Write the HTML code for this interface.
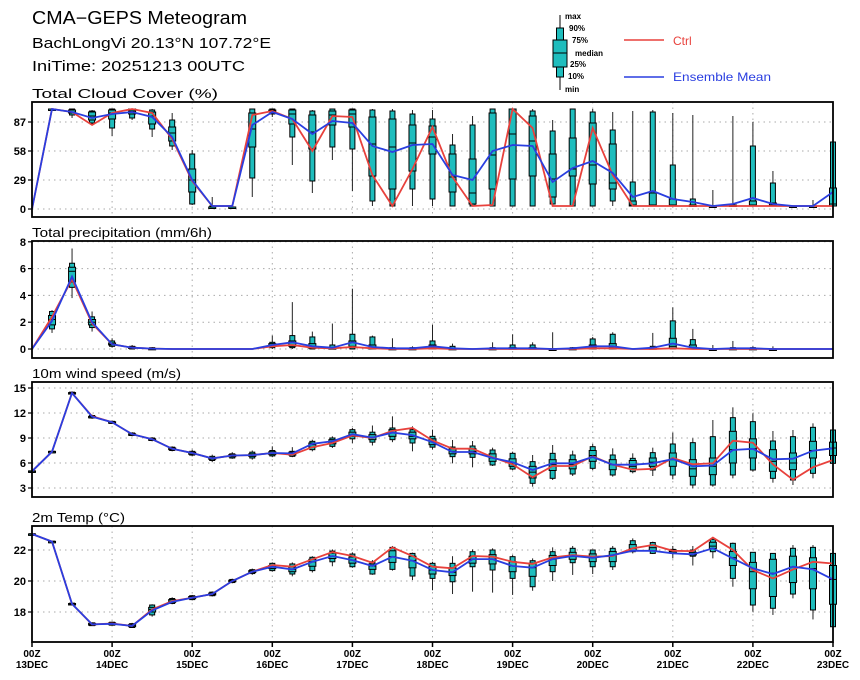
<!DOCTYPE html>
<html><head><meta charset="utf-8">
<style>
html,body{margin:0;padding:0;background:#fff;}
svg{display:block;font-family:"Liberation Sans","DejaVu Sans",sans-serif;}
</style></head>
<body>
<svg id="chart" width="860" height="680" viewBox="0 0 860 680" xmlns="http://www.w3.org/2000/svg">
  <g>
    <text x="32" y="24" font-size="18" fill="#000" textLength="215" lengthAdjust="spacingAndGlyphs">CMA−GEPS Meteogram</text>
    <text x="32" y="48" font-size="15" fill="#000" textLength="239" lengthAdjust="spacingAndGlyphs">BachLongVi 20.13°N 107.72°E</text>
    <text x="32" y="71" font-size="15" fill="#000" textLength="213" lengthAdjust="spacingAndGlyphs">IniTime: 20251213 00UTC</text>
  </g>
  <g font-weight="bold" font-size="8">
    <line x1="560" y1="15" x2="560" y2="90" stroke="#000" stroke-width="1"/>
    <rect x="556.5" y="28" width="7" height="49" fill="#1fbdbd" stroke="#000"/>
    <rect x="553" y="40" width="14" height="27" fill="#1fbdbd" stroke="#000"/>
    <line x1="553" y1="53" x2="567" y2="53" stroke="#000"/>
    <text x="565" y="19">max</text>
    <text x="569" y="31">90%</text>
    <text x="572" y="43">75%</text>
    <text x="575" y="56">median</text>
    <text x="570" y="67">25%</text>
    <text x="568" y="79">10%</text>
    <text x="565" y="92">min</text>
    <line x1="624" y1="40" x2="664" y2="40" stroke="#e8413c" stroke-width="1.5"/>
    <text x="673" y="45" font-size="12" font-weight="normal" fill="#e8413c">Ctrl</text>
    <line x1="624" y1="77" x2="664" y2="77" stroke="#2a3ee0" stroke-width="1.5"/>
    <text x="673" y="81" font-size="12" font-weight="normal" fill="#2a3ee0" textLength="98" lengthAdjust="spacingAndGlyphs">Ensemble Mean</text>
  </g>
</svg>
<script>
// ---- data ----
const steps = 41;
const dayLabels = ["13DEC","14DEC","15DEC","16DEC","17DEC","18DEC","19DEC","20DEC","21DEC","22DEC","23DEC"];

const cloudTicks = [0,29,58,87];
const cloudBoxes = [[0,0,0,0,0,0,0],[99,99,100,100,100,100,100],[91,94,96,97,99,100,100],[84,86,89,93,97,98,99],[73,81,90,96,99,100,100],[89,91,95,98,100,100,100],[72,80,85,93,97,99,100],[59,63,68,76,82,89,96],[4,5,17,29,40,55,59],[2,2,2,2,2,3,12],[2,2,2,2,2,2,3],[12,31,62,80,96,100,100],[92,95,97,98,99,100,100],[44,72,85,95,99,100,100],[16,28,60,77,94,98,99],[49,62,84,94,98,100,100],[18,60,82,95,99,100,100],[3,8,33,65,92,99,100],[3,3,20,62,90,98,100],[3,20,38,66,84,95,99],[3,10,55,72,83,90,99],[3,3,17,32,55,64,75],[3,3,5,16,50,84,93],[3,3,20,54,96,100,100],[3,3,30,75,100,100,100],[3,3,33,68,93,98,100],[3,5,12,30,55,78,89],[3,3,33,40,71,100,100],[3,3,25,44,86,97,100],[3,8,20,26,65,79,97],[3,3,3,4,8,27,98],[3,3,3,4,16,97,99],[3,3,3,4,10,44,96],[3,3,3,3,4,10,94],[3,3,3,3,3,3,19],[3,3,3,3,4,4,93],[3,3,3,4,8,63,87],[3,3,3,4,6,26,38],[3,3,3,3,3,3,3],[3,3,3,3,3,3,9],[3,3,3,5,21,67,67]];
const cloudCtrl = [0,100,97,84,96,100,96,70,28,3,3,94,98,90,58,93,92,34,3,40,82,32,3,4,100,81,3,3,81,34,3,3,3,3,3,3,3,3,3,3,3];
const cloudMean = [0,100,97,91,95,97,92,72,29,3,3,84,97,90,75,88,86,63,57,64,65,34,29,58,64,63,27,41,48,36,12,18,10,7,3,5,11,5,3,3,17];

const precTicks = [0,2,4,6,8];
const precBoxes = [[0,0,0,0,0,0,0],[1.2,1.5,1.8,2.2,2.5,2.8,2.9],[3.8,4.6,5.0,5.8,6.1,6.4,7.5],[1.3,1.6,1.8,2.0,2.2,2.4,2.8],[0.1,0.2,0.3,0.35,0.45,0.6,0.8],[0,0,0.05,0.1,0.15,0.2,0.3],[0,0,0,0.03,0.05,0.1,0.15],[0,0,0,0,0,0,0],[0,0,0,0,0,0,0],[0,0,0,0,0,0,0],[0,0,0,0,0,0,0],[0,0,0,0,0,0,0],[0,0.1,0.2,0.3,0.4,0.5,1.0],[0,0.1,0.2,0.3,0.6,1.0,3.5],[0,0,0.05,0.1,0.4,0.9,1.3],[0,0,0,0.05,0.1,0.3,1.9],[0,0,0.1,0.2,0.6,1.1,4.5],[0,0,0,0.05,0.3,0.9,1.0],[0,0,0,0,0.05,0.1,0.8],[0,0,0,0,0.05,0.1,0.2],[0,0,0,0.1,0.3,0.6,1.8],[0,0,0,0,0.05,0.2,0.4],[0,0,0,0,0,0,0],[0,0,0,0,0.05,0.1,0.5],[0,0,0,0,0.1,0.3,1.1],[0,0,0,0.05,0.1,0.3,0.5],[0,0,0,0,0,0.02,1.25],[0,0,0,0,0.05,0.1,0.15],[0,0,0,0.1,0.3,0.75,0.9],[0,0,0,0.1,0.4,1.1,1.25],[0,0,0,0,0,0,0],[0,0,0,0,0.1,0.2,1.2],[0,0,0.05,0.2,0.8,2.1,3.1],[0,0,0,0.1,0.3,0.7,1.5],[0,0,0,0,0,0.02,0.3],[0,0,0,0,0.05,0.1,0.6],[0,0,0,0,0.05,0.1,0.2],[0,0,0,0,0,0.02,0.2],[0,0,0,0,0,0,0],[0,0,0,0,0,0,0],[0,0,0,0,0,0,0]];
const precCtrl = [0,2.4,5.2,1.9,0.35,0.1,0.03,0,0,0,0,0,0.2,0.3,0.1,0.05,0.15,0.05,0,0,0.05,0,0,0,0,0,0,0,0.05,0.05,0,0,0.05,0,0,0,0,0,0,0,0];
const precMean = [0,2.1,5.4,2.0,0.35,0.1,0.03,0,0,0,0,0,0.3,0.5,0.2,0.1,0.5,0.15,0.05,0.05,0.2,0.05,0,0.05,0.05,0.05,0,0.05,0.2,0.2,0,0.1,0.4,0.1,0,0.05,0.05,0,0,0,0];

const windTicks = [3,6,9,12,15];
const windBoxes = [[5.0,5.0,5.0,5.0,5.05,5.05,5.1],[7.25,7.3,7.3,7.35,7.4,7.4,7.45],[14.2,14.3,14.35,14.4,14.45,14.5,14.6],[11.3,11.4,11.45,11.55,11.6,11.7,11.8],[10.7,10.75,10.8,10.9,10.95,11.0,11.1],[9.2,9.3,9.35,9.45,9.5,9.6,9.7],[8.6,8.7,8.75,8.85,8.9,9.0,9.1],[7.4,7.5,7.6,7.7,7.8,7.9,8.0],[6.8,6.95,7.05,7.2,7.3,7.4,7.6],[6.1,6.3,6.45,6.55,6.65,6.8,7.0],[6.5,6.6,6.75,6.85,7.0,7.1,7.3],[6.4,6.6,6.8,6.95,7.1,7.3,7.5],[6.7,6.85,7.0,7.2,7.35,7.5,8.0],[6.7,6.8,6.95,7.1,7.3,7.4,7.9],[7.4,7.6,7.9,8.2,8.4,8.6,8.8],[7.8,8.0,8.3,8.5,8.8,9.0,9.2],[8.4,8.9,9.2,9.4,9.7,10.0,10.2],[8.1,8.5,8.8,9.1,9.4,9.7,10.5],[8.5,8.8,9.2,9.6,10.0,10.2,11.6],[7.4,8.4,8.9,9.2,9.7,10.0,10.4],[7.6,7.9,8.2,8.6,8.9,9.2,10.0],[5.96,6.76,7.1,7.4,7.7,7.92,8.76],[5.48,6.68,7.1,7.4,7.7,8.04,8.64],[5.64,5.76,6.2,6.6,7.1,7.56,7.84],[5.16,5.28,5.6,6.0,6.5,7.16,7.36],[3.16,3.56,4.2,4.9,5.6,6.16,6.96],[3.96,4.16,5.1,5.8,6.4,7.16,8.16],[4.44,4.68,5.3,5.8,6.4,6.96,7.48],[5.16,5.36,6.2,6.9,7.5,7.96,8.28],[4.36,4.56,5.2,5.8,6.4,6.96,7.76],[4.76,4.96,5.3,5.6,6.3,6.56,7.16],[4.44,5.16,5.6,6.1,6.6,7.24,7.84],[4.04,4.56,5.6,6.4,7.2,8.28,9.64],[2.96,3.36,4.4,5.3,6.4,8.44,8.96],[3.16,3.36,4.6,5.6,6.6,9.16,11.16],[4.16,4.56,6.0,7.6,9.8,11.44,12.68],[4.96,5.16,6.6,7.7,8.9,10.96,11.96],[3.64,4.16,5.0,6.2,7.6,8.64,9.84],[3.36,3.96,5.2,6.0,7.2,9.16,9.96],[4.16,4.76,6.6,7.5,8.6,10.28,10.76],[5.5,5.96,6.9,7.8,8.5,9.96,10.2]];
const windCtrl = [5.0,7.35,14.4,11.6,10.9,9.45,8.85,7.7,7.2,6.55,6.9,6.95,7.2,7.0,7.9,8.4,9.3,9.0,9.85,10.2,8.7,7.72,7.72,6.68,5.84,4.3,5.64,5.64,6.8,5.8,5.2,5.3,6.6,5.84,5.96,8.68,8.44,5.84,4.0,5.5,6.36];
const windMean = [5.0,7.35,14.4,11.55,10.9,9.45,8.85,7.7,7.2,6.55,6.9,6.95,7.2,7.15,8.3,8.6,9.45,9.05,9.65,9.35,8.5,7.32,7.32,6.6,6.1,5.16,5.96,5.96,6.72,5.8,5.8,5.96,6.48,5.6,5.7,7.56,7.7,6.44,6.52,7.48,7.76];

const tempTicks = [18,20,22];
const tempBoxes = [[23.0,23.0,23.02,23.03,23.04,23.05,23.06],[22.5,22.51,22.52,22.54,22.56,22.57,22.58],[18.45,18.47,18.49,18.52,18.55,18.57,18.6],[17.1,17.12,17.15,17.2,17.27,17.3,17.33],[17.12,17.15,17.18,17.24,17.3,17.34,17.38],[16.98,17.0,17.05,17.12,17.2,17.25,17.3],[17.7,17.81,18.0,18.17,18.3,18.45,18.5],[18.5,18.55,18.62,18.7,18.8,18.87,18.95],[18.75,18.8,18.86,18.92,19.0,19.05,19.1],[19.0,19.05,19.1,19.16,19.22,19.28,19.33],[19.85,19.9,19.95,20.0,20.05,20.1,20.15],[20.4,20.48,20.55,20.6,20.67,20.73,20.8],[20.6,20.67,20.8,20.92,21.0,21.14,21.2],[20.3,20.45,20.6,20.75,20.9,21.1,21.2],[20.55,20.67,20.95,21.24,21.4,21.53,21.6],[20.95,21.24,21.45,21.61,21.8,21.93,22.04],[20.85,20.92,21.15,21.35,21.55,21.74,21.85],[20.4,20.45,20.75,20.97,21.1,21.24,21.35],[20.67,20.75,21.2,21.57,21.95,22.17,22.26],[20.06,20.32,20.85,21.31,21.6,21.78,21.83],[19.4,20.17,20.45,20.71,20.95,21.14,21.24],[19.16,19.95,20.35,20.56,20.85,21.14,21.6],[19.31,20.92,21.15,21.41,21.6,21.89,22.04],[19.25,20.71,21.1,21.41,21.7,22.0,22.11],[19.1,20.17,20.6,20.97,21.25,21.57,21.67],[19.37,19.63,20.3,20.86,21.15,21.31,21.46],[20.0,20.6,21.0,21.41,21.65,21.89,22.17],[20.39,21.18,21.4,21.61,21.85,22.11,22.26],[20.45,20.92,21.25,21.5,21.75,22.0,22.0],[20.71,20.92,21.25,21.67,21.9,22.11,22.26],[21.78,21.89,21.95,22.1,22.35,22.6,22.75],[21.74,21.78,21.95,22.15,22.3,22.48,22.54],[21.46,21.78,21.82,21.9,22.0,22.04,22.26],[21.0,21.6,21.68,21.75,21.85,22.0,22.26],[21.46,21.89,22.1,22.25,22.5,22.69,22.75],[19.63,20.17,21.0,21.5,21.9,22.43,22.48],[18.02,18.45,19.5,20.6,21.2,21.85,21.85],[17.81,18.24,19.0,20.5,21.4,21.78,21.78],[18.88,19.16,19.9,20.9,21.6,22.11,22.32],[17.52,18.13,19.5,20.8,21.5,22.17,22.32],[16.62,17.05,18.5,20.1,21.0,21.78,21.83]];
const tempCtrl = [23.03,22.54,18.52,17.2,17.26,17.1,18.17,18.7,18.92,19.16,20.0,20.6,21.03,20.92,21.4,21.87,21.61,21.18,22.17,21.61,20.92,20.82,21.61,21.57,21.24,21.1,21.52,21.67,21.57,21.61,22.11,22.32,21.95,21.93,22.8,22.0,20.71,20.17,20.75,21.24,21.13];
const tempMean = [23.03,22.54,18.52,17.2,17.24,17.1,18.1,18.65,18.92,19.16,20.0,20.6,20.92,20.75,21.24,21.61,21.35,20.97,21.57,21.31,20.71,20.56,21.41,21.41,20.97,20.86,21.41,21.61,21.5,21.67,21.95,21.95,21.78,21.72,22.11,21.46,20.82,20.45,20.92,20.75,20.1];

// ---- layout ----
const NS = "http://www.w3.org/2000/svg";
const svg = document.getElementById("chart");
const X0 = 32, X1 = 833;
function xScale(i){ return X0 + i*(X1-X0)/(steps-1); }
function mk(tag, attrs, parent){ const e=document.createElementNS(NS,tag); for(const k in attrs) e.setAttribute(k,attrs[k]); (parent||svg).appendChild(e); return e; }

const panels = [
  {key:"cloud", title:"Total Cloud Cover (%)", tlen:186, top:102, bottom:217, v0:0, y0:209, ppu:1.0, ticks:cloudTicks, boxes:cloudBoxes, ctrl:cloudCtrl, mean:cloudMean},
  {key:"precip", title:"Total precipitation (mm/6h)", tlen:180, top:241, bottom:358, v0:0, y0:349, ppu:13.4, ticks:precTicks, boxes:precBoxes, ctrl:precCtrl, mean:precMean},
  {key:"wind", title:"10m wind speed (m/s)", tlen:149, top:382, bottom:497, v0:15, y0:388, ppu:8.333, ticks:windTicks, boxes:windBoxes, ctrl:windCtrl, mean:windMean},
  {key:"temp", title:"2m Temp (°C)", tlen:93, top:526, bottom:642, v0:22, y0:550, ppu:15.5, ticks:tempTicks, boxes:tempBoxes, ctrl:tempCtrl, mean:tempMean}
];

panels.forEach(p=>{
  const y = v => p.y0 - (v - p.v0)*p.ppu;
  const g = mk("g",{});
  
  
  const t = mk("text",{x:32,y:p.top-4,"font-size":"12.5",fill:"#000",textLength:p.tlen,lengthAdjust:"spacingAndGlyphs"},g);
  
  
  t.textContent = p.title;
  for(let d=1; d<10; d++){
    const gl = mk("line",{x1:xScale(d*4),x2:xScale(d*4),y1:p.top,y2:p.bottom,stroke:"#aaa","stroke-width":1,"stroke-dasharray":"1.5,4"},g);
    
    
  }
  p.ticks.forEach(tv=>{
    const ty = y(tv);
    const hl = mk("line",{x1:X0,x2:X1,y1:ty,y2:ty,stroke:"#aaa","stroke-width":1,"stroke-dasharray":"1.5,4"},g);
    
    
    const tk = mk("line",{x1:X0-4,x2:X0,y1:ty,y2:ty,stroke:"#000","stroke-width":1.2},g);
    
    
    const tl = mk("text",{x:X0-6,y:ty+4,"font-size":"11","font-weight":"bold","text-anchor":"end",fill:"#000"},g);
    
    
    tl.textContent = tv;
  });
  p.boxes.forEach((b,i)=>{
    if (b[6]-b[0] < 1e-9 && b[6]===0) return;
    const cx = xScale(i);
    const bg = mk("g",{},g);
    
    
    const wl = mk("line",{x1:cx,x2:cx,y1:y(b[6]),y2:y(b[0]),stroke:"#222","stroke-width":1},bg);
    
    
    const oh = Math.max(y(b[1])-y(b[5]),1.5);
    const ob = mk("rect",{x:cx-2.5,y:y(b[5]),width:5,height:oh,fill:"#1fbdbd",stroke:"#000","stroke-width":1},bg);
    
    
    const ih = Math.max(y(b[2])-y(b[4]),1.5);
    const ib = mk("rect",{x:cx-3.5,y:y(b[4]),width:7,height:ih,fill:"#1fbdbd",stroke:"#000","stroke-width":1},bg);
    
    
    const md = mk("line",{x1:cx-3.5,x2:cx+3.5,y1:y(b[3]),y2:y(b[3]),stroke:"#000","stroke-width":1},bg);
    
    
  });
  const ctrlPts = p.ctrl.map((v,i)=>xScale(i).toFixed(1)+","+y(v).toFixed(1)).join(" ");
  const cl = mk("polyline",{points:ctrlPts,fill:"none",stroke:"#e8413c","stroke-width":1.8},g);
  
  
  const meanPts = p.mean.map((v,i)=>xScale(i).toFixed(1)+","+y(v).toFixed(1)).join(" ");
  const ml = mk("polyline",{points:meanPts,fill:"none",stroke:"#2a3ee0","stroke-width":1.8},g);
  
  
  const fr = mk("rect",{x:X0,y:p.top,width:X1-X0,height:p.bottom-p.top,fill:"none",stroke:"#000","stroke-width":1.8},g);
  
  
});

const xg = mk("g",{});


dayLabels.forEach((lab,d)=>{
  const x = xScale(d*4);
  const tk = mk("line",{x1:x,x2:x,y1:642,y2:647,stroke:"#000","stroke-width":1.5},xg);
  
  
  const t1 = mk("text",{x:x,y:657,"font-size":"10","font-weight":"bold","text-anchor":"middle",fill:"#000"},xg);
  
  
  t1.textContent = "00Z";
  const t2 = mk("text",{x:x,y:668,"font-size":"10","font-weight":"bold","text-anchor":"middle",fill:"#000"},xg);
  
  
  t2.textContent = lab;
});
</script>
</body></html>
